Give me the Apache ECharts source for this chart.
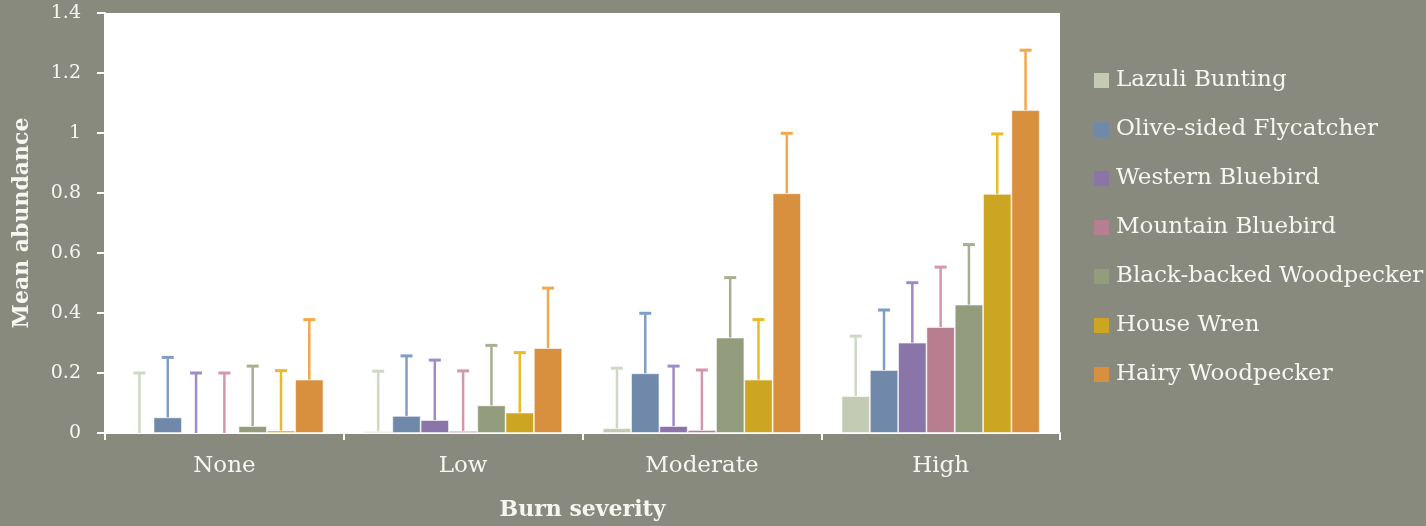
<!DOCTYPE html>
<html>
<head>
<meta charset="utf-8">
<script src="https://cdn.jsdelivr.net/npm/echarts@6/dist/echarts.min.js"></script>
<style>
html,body{margin:0;padding:0;background:#878a7d;}
#c{width:1426px;height:526px;}
</style>
</head>
<body>
<div id="c"></div>
<script>
// ---- data ----
const categories = ['None', 'Low', 'Moderate', 'High'];
const speciesNames = ['Lazuli Bunting', 'Olive-sided Flycatcher', 'Western Bluebird', 'Mountain Bluebird', 'Black-backed Woodpecker', 'House Wren', 'Hairy Woodpecker'];
const lazuliBunting        = [0.0,   0.006, 0.016, 0.123];
const oliveSidedFlycatcher = [0.052, 0.057, 0.199, 0.210];
const westernBluebird      = [0.0,   0.043, 0.023, 0.301];
const mountainBluebird     = [0.0,   0.007, 0.010, 0.353];
const blackBackedWoodpecker= [0.023, 0.092, 0.318, 0.428];
const houseWren            = [0.008, 0.068, 0.178, 0.797];
const hairyWoodpecker      = [0.178, 0.283, 0.799, 1.076];
const lazuliBuntingErr        = [0.2, 0.2, 0.2, 0.2];
const oliveSidedFlycatcherErr = [0.2, 0.2, 0.2, 0.2];
const westernBluebirdErr      = [0.2, 0.2, 0.2, 0.2];
const mountainBluebirdErr     = [0.2, 0.2, 0.2, 0.2];
const blackBackedWoodpeckerErr= [0.2, 0.2, 0.2, 0.2];
const houseWrenErr            = [0.2, 0.2, 0.2, 0.2];
const hairyWoodpeckerErr      = [0.2, 0.2, 0.2, 0.2];
const yTickLabels = ['0', '0.2', '0.4', '0.6', '0.8', '1', '1.2', '1.4'];

const means = [lazuliBunting, oliveSidedFlycatcher, westernBluebird, mountainBluebird, blackBackedWoodpecker, houseWren, hairyWoodpecker];
const errs = [lazuliBuntingErr, oliveSidedFlycatcherErr, westernBluebirdErr, mountainBluebirdErr, blackBackedWoodpeckerErr, houseWrenErr, hairyWoodpeckerErr];
const barColors = ['#c3cbb4', '#7089ab', '#8a75a8', '#b77e90', '#939d7d', '#cca623', '#d8903e'];
const errColors = ['#cfd8c4', '#7f9dc5', '#9f8bc8', '#d497a9', '#a5b090', '#e9bb2a', '#f5a74b'];

const N = speciesNames.length;
const GAP = 0.17;
const FONT = '"DejaVu Serif", serif';
const TXT = '#f7f7f2';

const series = [];
speciesNames.forEach((name, k) => {
  series.push({
    name: name,
    type: 'bar',
    data: means[k],
    barGap: '0%',
    barCategoryGap: (GAP * 100) + '%',
    itemStyle: { color: barColors[k], borderColor: 'rgba(255,255,255,0.7)', borderWidth: 0.8 },
    z: 2
  });
});
speciesNames.forEach((name, k) => {
  series.push({
    name: 'err ' + name,
    type: 'custom',
    z: 3,
    data: categories.map((c, i) => [i, means[k][i] + errs[k][i], means[k][i]]),
    renderItem: function (params, api) {
      const ci = api.value(0);
      const top = api.coord([ci, api.value(1)]);
      const base = api.coord([ci, api.value(2)]);
      const band = api.size([1, 0])[0];
      const bw = band * (1 - GAP) / N;
      const x = base[0] + (k - (N - 1) / 2) * bw;
      const col = errColors[k];
      return {
        type: 'group',
        children: [
          { type: 'line', shape: { x1: x, y1: base[1], x2: x, y2: top[1] + 1 }, style: { stroke: col, lineWidth: 2.5 } },
          { type: 'line', shape: { x1: x - 6, y1: top[1], x2: x + 6, y2: top[1] }, style: { stroke: col, lineWidth: 3 } }
        ]
      };
    }
  });
});

const chart = echarts.init(document.getElementById('c'), null, { renderer: 'canvas' });
chart.setOption({
  backgroundColor: '#878a7d',
  animation: false,
  textStyle: { fontFamily: FONT },
  grid: { left: 105, right: 366, top: 13, bottom: 92, show: true, backgroundColor: '#ffffff', borderWidth: 0 },
  legend: {
    data: speciesNames,
    orient: 'vertical',
    left: 1089,
    top: 63,
    icon: 'rect',
    itemWidth: 15,
    itemHeight: 15,
    itemGap: 24,
    itemStyle: { borderWidth: 0 },
    textStyle: { color: TXT, fontSize: 23, fontFamily: FONT, lineHeight: 25, padding: [0, 0, 0, 2] }
  },
  xAxis: {
    type: 'category',
    data: categories,
    name: 'Burn severity',
    nameLocation: 'middle',
    nameGap: 66,
    nameTextStyle: { color: TXT, fontSize: 22, fontWeight: 'bold', fontFamily: FONT },
    axisLine: { lineStyle: { color: '#ffffff', width: 2 } },
    axisTick: { show: true, length: 7, lineStyle: { color: '#ffffff', width: 2 } },
    axisLabel: { color: TXT, fontSize: 23, margin: 22, fontFamily: FONT },
    splitLine: { show: false }
  },
  yAxis: {
    type: 'value',
    min: 0,
    max: 1.4,
    interval: 0.2,
    name: 'Mean abundance',
    nameLocation: 'middle',
    nameGap: 72,
    nameTextStyle: { color: TXT, fontSize: 22, fontWeight: 'bold', fontFamily: FONT },
    axisLine: { show: true, lineStyle: { color: '#ffffff', width: 2 } },
    axisTick: { show: true, length: 8, lineStyle: { color: '#ffffff', width: 2 } },
    axisLabel: { color: TXT, fontSize: 19, margin: 24, fontFamily: FONT,
      formatter: function (v) { const i = Math.round(v / 0.2); return yTickLabels[i] !== undefined ? yTickLabels[i] : ''; } },
    splitLine: { show: false }
  },
  series: series
});
</script>
</body>
</html>
